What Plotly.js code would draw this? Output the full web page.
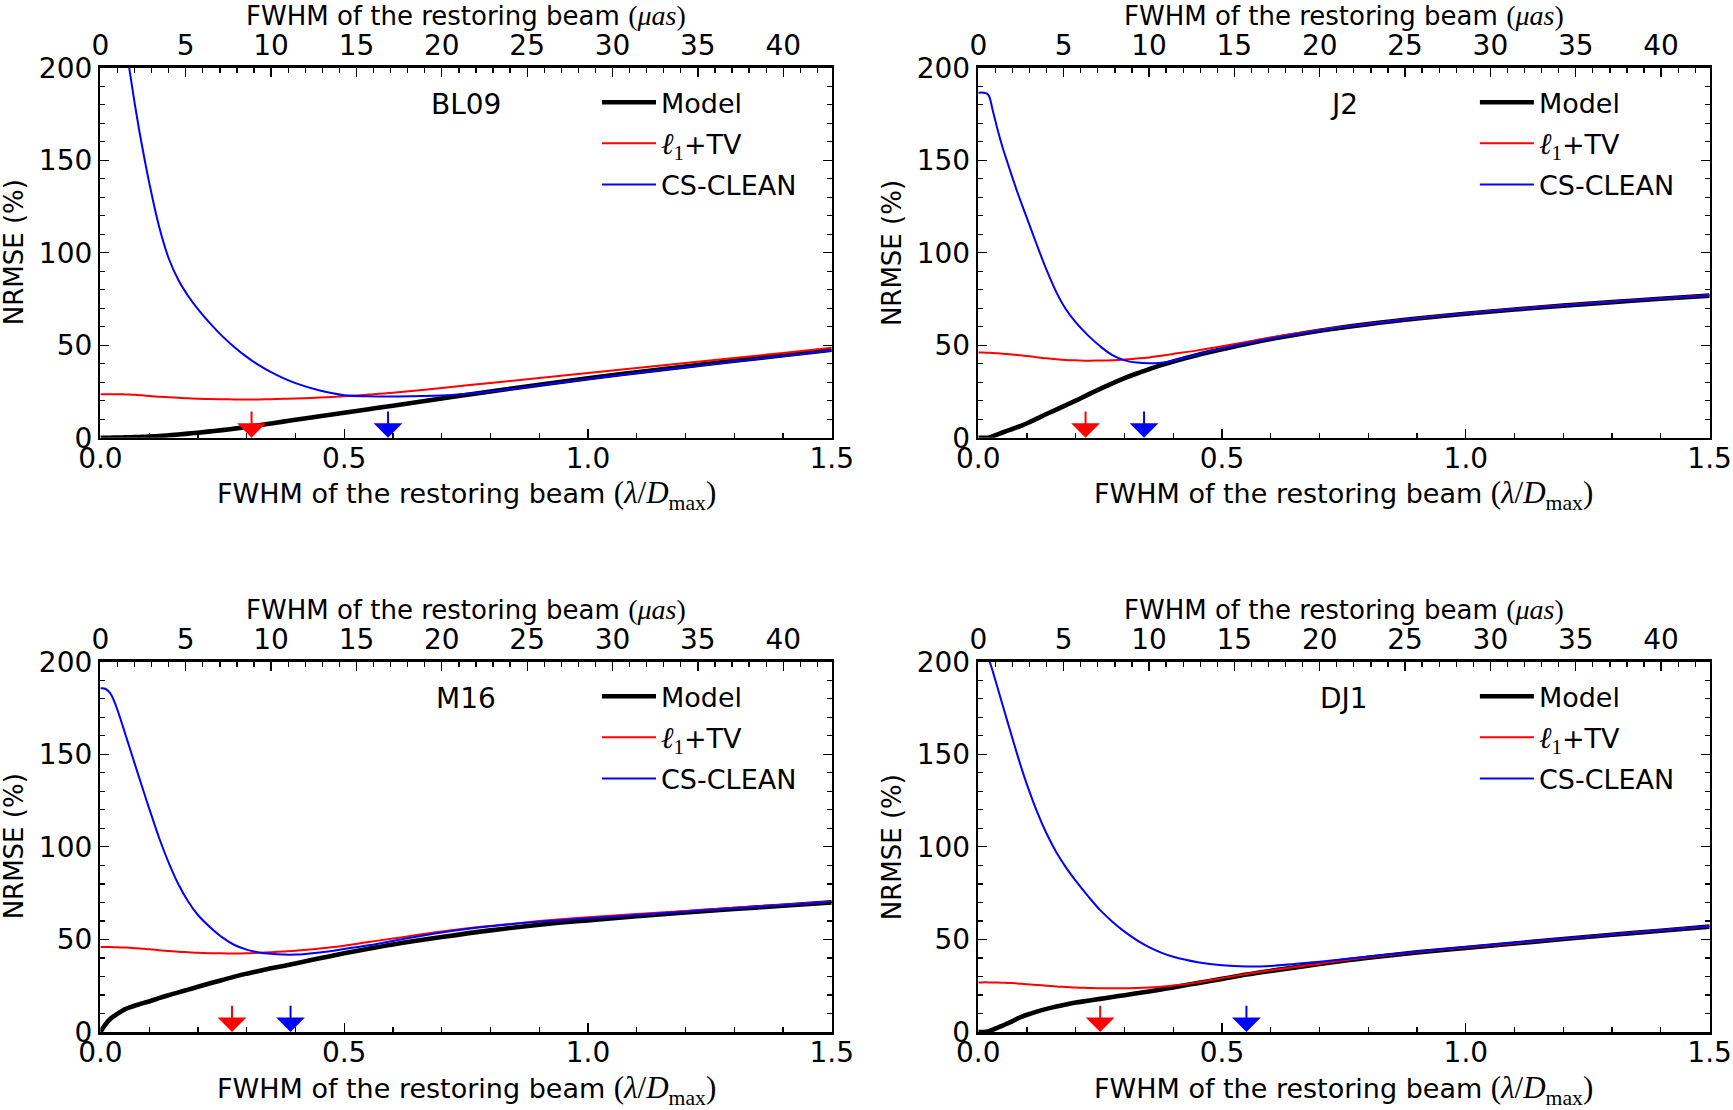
<!DOCTYPE html>
<html><head><meta charset="utf-8">
<script src="https://cdn.plot.ly/plotly-3.0.1.min.js"></script>
<style>html,body{margin:0;padding:0;background:#fff;}#chart{width:1733px;height:1110px;}</style>
</head><body><div id="chart"></div>
<script>
// ---------------- DATA ----------------
// FWHM of the restoring beam (lambda / D_max)
const beamFwhm = [0, 0.01, 0.02, 0.03, 0.04, 0.05, 0.06, 0.07, 0.08, 0.09,
  0.1, 0.12, 0.14, 0.16, 0.18,
  0.2, 0.225, 0.25, 0.275, 0.3, 0.325, 0.35, 0.375, 0.4,
  0.45, 0.5, 0.55, 0.6,
  0.7, 0.8, 0.9, 1.0, 1.1, 1.2, 1.3, 1.4, 1.5];

const panelNames = ['BL09', 'J2', 'M16', 'DJ1'];
const seriesNames = ['Model', '<span style="font-family:Liberation Serif;font-size:30px"><i>ℓ</i><sub>1</sub></span>+TV', 'CS-CLEAN'];

// NRMSE (%)
const bl09Model = [0,0,0,0.05,0.1,0.15,0.2,0.3,0.4,0.5, 0.6,0.9,1.3,1.7,2.2, 2.7,3.4,4.1,4.9,5.8,6.7,7.7,8.7,9.7, 11.6,13.5,15.4,17.3, 21.2,25.0,28.6,32.1,35.4,38.5,41.6,44.6,47.5];
const bl09L1tv  = [23.5,23.5,23.5,23.5,23.5,23.4,23.3,23.2,23.0,22.8, 22.6,22.2,21.9,21.6,21.3, 21.1,20.9,20.8,20.7,20.7,20.7,20.8,21.0,21.2, 21.7,22.4,23.3,24.3, 26.9,29.6,32.3,35.0,37.7,40.4,43.1,45.8,48.6];
const bl09Clean = [null,null,null,null,240,217,198.3,181.3,165.5,151.3, 138,114.5,97,85.2,76.6, 69.5,61.8,54.9,48.9,43.7,39.2,35.4,32.2,29.5, 25.5,23.0,22.4,22.3, 22.8,25.0,28.3,31.7,35.0,38.1,41.2,44.2,47.1];

const j2Model = [0,0,0,0.8,1.8,2.8,3.8,4.7,5.7,6.7, 7.8,10.3,12.8,15.2,17.6, 20.0,23.3,26.4,29.4,32.2,34.7,37.0,39.2,41.2, 44.7,47.8,50.7,53.3, 57.8,61.4,64.4,67.0,69.3,71.4,73.3,75.1,76.8];
const j2L1tv  = [46.0,46.0,45.9,45.8,45.6,45.4,45.2,45.0,44.7,44.4, 44.1,43.5,42.9,42.4,42.0, 41.8,41.6,41.7,41.9,42.3,42.8,43.4,44.3,45.3, 47.2,49.4,51.8,54.2, 58.2,61.6,64.6,67.2,69.5,71.6,73.5,75.3,77.0];
const j2Clean = [186.5,186.5,185.5,176.5,166,156.7,148.6,140.6,132.8,125.6, 118.5,104.3,90.7,78.7,69.3, 62.3,55.3,49.4,44.6,41.8,40.6,40.2,40.5,41.6, 45.0,48.2,51.0,53.6, 58.0,61.5,64.5,67.1,69.4,71.5,73.4,75.2,76.9];

const m16Model = [0,4.0,7.0,9.0,10.7,12.2,13.3,14.2,15.0,15.8, 16.5,18.3,19.9,21.4,22.9, 24.4,26.3,28.1,29.9,31.5,33.0,34.4,35.7,37.0, 39.8,42.5,45.0,47.3, 51.3,54.9,57.9,60.3,62.5,64.5,66.4,68.2,70.0];
const m16L1tv  = [45.9,45.9,45.9,45.8,45.7,45.6,45.5,45.3,45.1,44.9, 44.7,44.2,43.8,43.4,43.1, 42.8,42.6,42.5,42.4,42.5,42.8,43.1,43.5,43.9, 45.1,46.6,48.6,50.5, 54.3,57.3,59.9,62.0,63.7,65.4,67.1,68.7,70.3];
const m16Clean = [185.6,185.4,183,177.5,170,161.8,153.5,145.2,137,128.8, 120.8,105.2,91.5,79.8,70.5, 63.2,56.6,51.1,47.0,44.5,43.0,42.2,41.8,41.8, 43.0,44.8,46.8,49.2, 53.8,57.1,59.6,61.4,63.2,65.0,66.8,68.5,70.2];

const dj1Model = [0,0,0.3,1.3,2.4,3.5,4.7,5.9,7.2,8.3, 9.3,11.0,12.5,13.8,14.9, 15.9,16.9,17.9,18.9,19.9,20.9,21.9,23.0,24.1, 26.4,28.7,31.0,33.0, 36.7,40.1,43.0,45.4,47.8,50.2,52.5,54.7,56.9];
const dj1L1tv  = [26.8,26.8,26.8,26.7,26.7,26.6,26.5,26.4,26.2,26.0, 25.8,25.4,25.0,24.6,24.3, 24.0,23.8,23.6,23.6,23.6,23.7,24.0,24.5,25.1, 26.8,29.1,31.3,33.3, 36.9,40.3,43.2,45.6,48.0,50.4,52.7,54.9,57.1];
const dj1Clean = [null,222,203.5,194.5,185.5,176.5,167.5,158.6,149.8,141.3, 133.5,119.3,107.2,97.1,88.8, 81.6,73.4,65.8,59.6,54.2,49.6,45.8,42.9,40.6, 37.7,36.0,35.4,35.7, 38.0,40.8,43.4,45.9,48.2,50.5,52.7,54.9,57.1];

// optimal beam (arrows), lambda / D_max
const optimalL1tv  = [0.31, 0.22, 0.27, 0.25];
const optimalClean = [0.59, 0.34, 0.39, 0.55];

// tick labels / axis ranges
const xTickVals = [0, 0.5, 1.0, 1.5];
const xTickText = ['0.0', '0.5', '1.0', '1.5'];
const muasTickVals = [0, 5, 10, 15, 20, 25, 30, 35, 40];
const muasMax = 42.84;
const yTickVals = [0, 50, 100, 150, 200];

// ---------------- BUILD ----------------
const FONT = 'DejaVu Sans';
const COLORS = ['#000000', '#ff0000', '#0000ff'];
const WIDTHS = [4.6, 2, 2];
const seriesData = [
  [bl09Model, bl09L1tv, bl09Clean],
  [j2Model, j2L1tv, j2Clean],
  [m16Model, m16L1tv, m16Clean],
  [dj1Model, dj1L1tv, dj1Clean]
];

const W = 1733, H = 1110;
// panel pixel boxes [left, right, top, bottom]
const boxes = [
  [100.4, 831.7, 67.7, 437.7],
  [978.3, 1709.6, 67.7, 437.7],
  [100.4, 831.7, 661.7, 1032.0],
  [978.3, 1709.6, 661.7, 1032.0]
];

const traces = [];
const layout = {
  width: W, height: H,
  margin: {l: 0, r: 0, t: 0, b: 0},
  paper_bgcolor: '#ffffff', plot_bgcolor: '#ffffff',
  font: {family: FONT, size: 27, color: '#000'},
  showlegend: true,
  annotations: []
};

const serif = (s, sz) => '<span style="font-family:Liberation Serif;font-size:' + sz + 'px">' + s + '</span>';
const topTitle = 'FWHM of the restoring beam ' + serif('(<i>μas</i>)', 28);
const botTitle = 'FWHM of the restoring beam ' + serif('(<i>λ</i>/<i>D</i><sub>max</sub>)', 31);

for (let p = 0; p < 4; p++) {
  const [l, r, t, b] = boxes[p];
  const n = p + 1;
  const xName = n === 1 ? 'x' : 'x' + n;
  const yName = n === 1 ? 'y' : 'y' + n;
  const topName = 'x' + (n + 4);
  const legName = n === 1 ? 'legend' : 'legend' + n;

  for (let s = 0; s < 3; s++) {
    traces.push({
      type: 'scatter', mode: 'lines',
      x: beamFwhm, y: seriesData[p][s],
      name: seriesNames[s],
      xaxis: xName, yaxis: yName,
      line: {color: COLORS[s], width: WIDTHS[s], shape: 'spline', smoothing: 1.0},
      connectgaps: false,
      legend: legName, legendgroup: 'g' + n + '_' + s,
      hoverinfo: 'skip'
    });
  }
  // empty trace so the top (µas) axis is drawn
  traces.push({type: 'scatter', mode: 'lines', x: [], y: [], xaxis: topName, yaxis: yName, showlegend: false, hoverinfo: 'skip'});

  const xdom = [l / W, r / W];
  const ydom = [1 - b / H, 1 - t / H];
  const axLine = {showline: true, linecolor: '#000', linewidth: 2.5, showgrid: false, zeroline: false};

  layout['xaxis' + (n === 1 ? '' : n)] = Object.assign({}, axLine, {
    domain: xdom, anchor: yName, range: [0, 1.5], mirror: true,
    tickmode: 'array', tickvals: xTickVals, ticktext: xTickText,
    ticks: 'inside', ticklen: 9, tickwidth: 1.3, tickcolor: '#000',
    minor: {dtick: 0.1, tick0: 0, ticks: 'inside', ticklen: 5, tickwidth: 1.3, tickcolor: '#000'},
    tickfont: {family: FONT, size: 28, color: '#000'},
    ticklabelstandoff: -6
  });
  layout['yaxis' + (n === 1 ? '' : n)] = Object.assign({}, axLine, {
    domain: ydom, anchor: xName, range: [0, 200], mirror: 'ticks',
    tickmode: 'array', tickvals: yTickVals,
    ticks: 'inside', ticklen: 9, tickwidth: 1.3, tickcolor: '#000',
    minor: {dtick: 10, tick0: 0, ticks: 'inside', ticklen: 5, tickwidth: 1.3, tickcolor: '#000'},
    tickfont: {family: FONT, size: 28, color: '#000'},
    ticklabelstandoff: 0
  });
  layout['xaxis' + (n + 4)] = {
    overlaying: xName, side: 'top', anchor: yName, range: [0, muasMax],
    showline: false, showgrid: false, zeroline: false,
    tickmode: 'array', tickvals: muasTickVals,
    ticks: 'inside', ticklen: 9, tickwidth: 1.3, tickcolor: '#000',
    minor: {dtick: 1, tick0: 0, ticks: 'inside', ticklen: 5, tickwidth: 1.3, tickcolor: '#000'},
    tickfont: {family: FONT, size: 28, color: '#000'},
    ticklabelstandoff: 6
  };

  layout[legName] = {
    x: (l + 496.6) / W, y: 1 - (t + 10.5) / H, xanchor: 'left', yanchor: 'top',
    bgcolor: 'rgba(0,0,0,0)', borderwidth: 0, tracegroupgap: 3,
    font: {family: FONT, size: 27, color: '#000'}, itemwidth: 54
  };

  const cx = (l + r) / 2 / W;
  // panel label
  layout.annotations.push({xref: xName + ' domain', yref: yName + ' domain', x: 0.5, y: 0.9,
    text: panelNames[p], showarrow: false, xanchor: 'center', yanchor: 'middle',
    font: {family: FONT, size: 28, color: '#000'}});
  // axis titles
  layout.annotations.push({xref: 'paper', yref: 'paper', x: cx, y: 1 - (t - 52.2) / H,
    text: topTitle, showarrow: false, xanchor: 'center', yanchor: 'middle', borderpad: 0,
    font: {family: FONT, size: 26, color: '#000'}});
  layout.annotations.push({xref: 'paper', yref: 'paper', x: cx, y: 1 - (b + 57.5) / H,
    text: botTitle, showarrow: false, xanchor: 'center', yanchor: 'middle', borderpad: 0,
    font: {family: FONT, size: 27, color: '#000'}});
  layout.annotations.push({xref: 'paper', yref: 'paper', x: (l - 86.9) / W, y: 1 - (t + b) / 2 / H,
    text: 'NRMSE (%)', textangle: -90, showarrow: false, xanchor: 'center', yanchor: 'middle', borderpad: 0,
    font: {family: FONT, size: 26, color: '#000'}});
  // optimal beam arrows
  [[optimalL1tv[p], COLORS[1]], [optimalClean[p], COLORS[2]]].forEach(([xv, col]) => {
    layout.annotations.push({xref: xName, yref: yName, axref: xName, ayref: yName,
      x: xv, y: 0, ax: xv, ay: 15, text: '', showarrow: true,
      arrowhead: 1, arrowsize: 2.4, arrowwidth: 2, arrowcolor: col, standoff: 0});
  });
}

Plotly.newPlot('chart', traces, layout, {staticPlot: true, displayModeBar: false});
</script>
</body></html>
